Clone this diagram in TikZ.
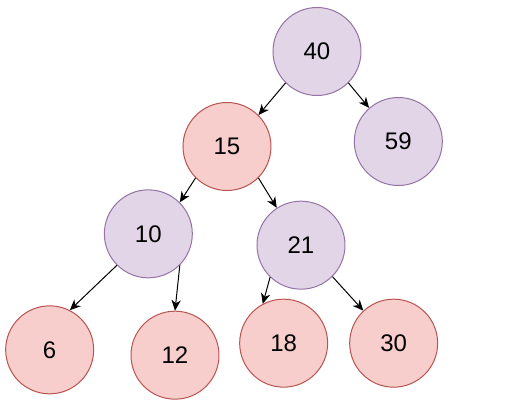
\documentclass[tikz,border=0pt]{standalone}
\usepackage{fontspec}
\setmainfont{Liberation Sans}
\usetikzlibrary{arrows.meta}
\definecolor{purplefill}{HTML}{E1D5E7}
\definecolor{purpleline}{HTML}{9673A6}
\definecolor{redfill}{HTML}{F8CECC}
\definecolor{redline}{HTML}{B85450}
\tikzstyle{arrow} = [line width=0.75pt,-{Stealth[length=8pt,width=7pt,inset=2.5pt]},color=black]
\tikzstyle{purplenode} = [circle, minimum size=66pt, line width=0.75pt, draw=purpleline, fill=purplefill, font=\fontsize{18}{21}\selectfont]
\tikzstyle{rednode} = [circle, minimum size=66pt, line width=0.75pt, draw=redline, fill=redfill, font=\fontsize{18}{21}\selectfont]

\begin{document}
\begin{tikzpicture}[node distance=70pt]
    % nodes
    \node (n40) [purplenode] {40};

    % second level
    \node (n15) [rednode, below of=n40, xshift=-67.5pt, yshift=-1.25pt] {15};
    \node (n59) [purplenode, below of=n40, xshift=61pt, yshift=2.5pt] {59};

    % third level
    \node (n10) [purplenode, below of=n15, xshift=-59pt, yshift=4.5pt] {10};
    \node (n21) [purplenode, below of=n15, xshift=55.5pt, yshift=-4pt] {21};

    % leaves
    \node (n6) [rednode, below of=n10, xshift=-74pt, yshift=-17pt] {6};
    \node (n12) [rednode, below of=n10, xshift=20pt, yshift=-21pt] {12};
    \node (n18) [rednode, below of=n21, xshift=-13pt, yshift=-3.5pt] {18};
    \node (n30) [rednode, below of=n21, xshift=69.5pt, yshift=-3.5pt] {30};

    % arrows
    \draw [arrow] (n40.225) -- (n15.45);
    \draw [arrow] (n40.-45) -- (n59.131);
    \draw [arrow] (n15.225) -- (n10.45);
    \draw [arrow] (n15.-45) -- (n21.123);
    \draw [arrow] (n10.225) -- (n6.63);
    \draw [arrow] (n10.-45) -- (n12.90);
    \draw [arrow] (n21.226) -- (n18.118);
    \draw [arrow] (n21.-45) -- (n30.133);

    \useasboundingbox ([shift={(-237.75pt,38.625pt)}]n40.center) rectangle ([shift={(145.5pt,-262.125pt)}]n40.center);
\end{tikzpicture}
\end{document}
